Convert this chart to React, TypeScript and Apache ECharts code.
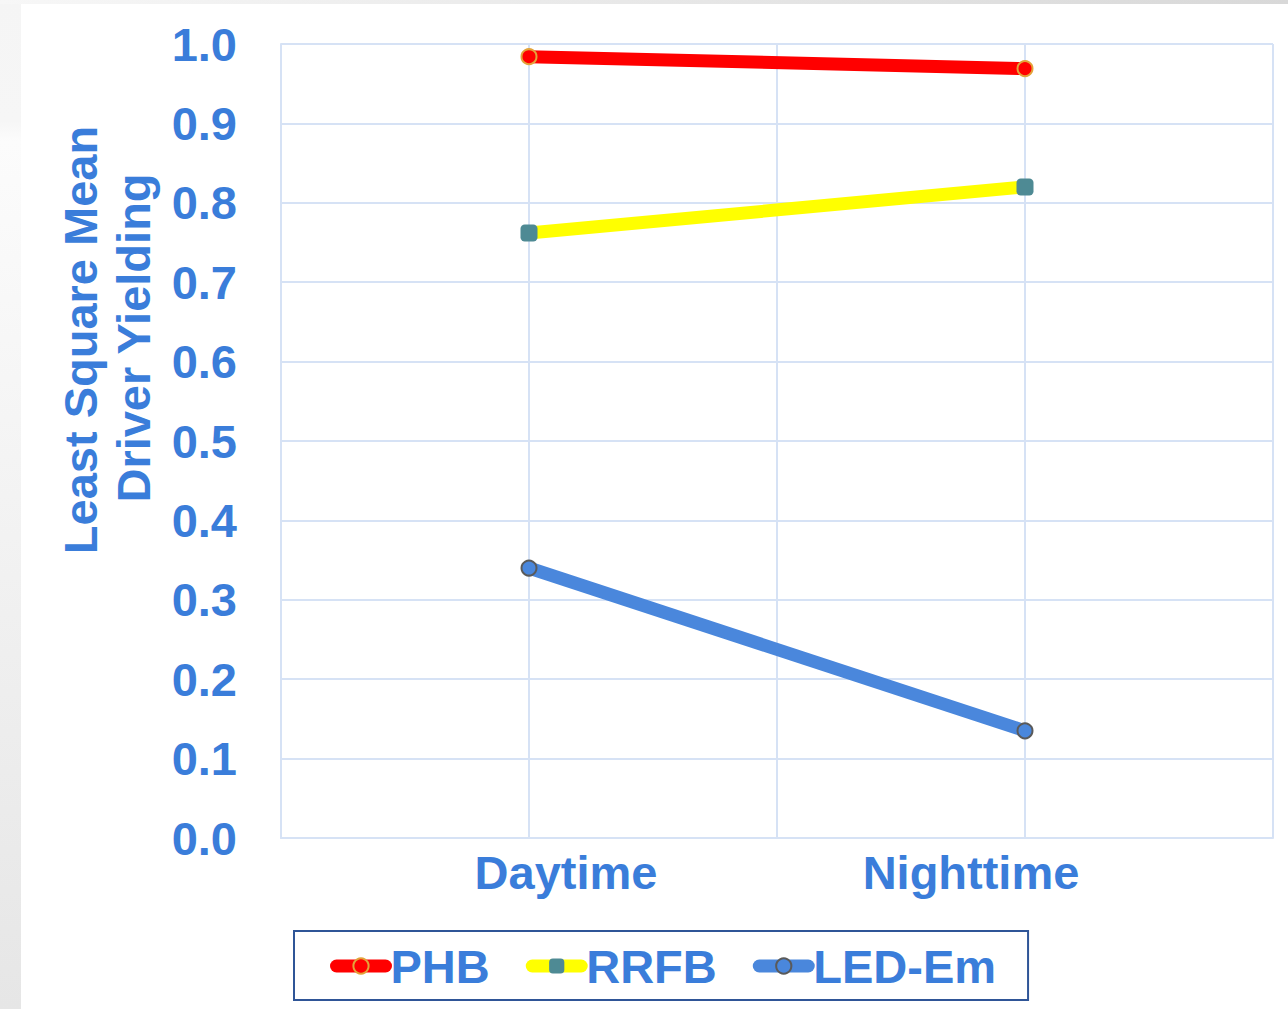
import React, { useEffect, useRef } from "react";
import * as echarts from "echarts";

// Category axis slots: the two conditions sit on the 2nd and 4th gridlines
const slots = [" ", "Daytime", "  ", "Nighttime", "   "];
const conditions = ["Daytime", "Nighttime"];

// Least square mean driver yielding by condition
const phb = [0.984, 0.969];
const rrfb = [0.762, 0.82];
const ledEm = [0.34, 0.135];

const yTicks = { min: 0, max: 1, interval: 0.1 };
const yTitle = ["Least Square Mean", "Driver Yielding"];

const FONT = "Arial, 'Liberation Sans', sans-serif";
const FS = 47;
const BLUE_TEXT = "#3A7DDA";
const GRID = "#D6E2F5";

const pairs = (vals: number[]) => conditions.map((c, i) => [c, vals[i]]);

export default function App() {
  const ref = useRef<HTMLDivElement>(null);

  useEffect(() => {
    if (!ref.current) return;
    const chart = echarts.init(ref.current, null, { renderer: "svg" });
    const labelRich = { color: BLUE_TEXT, fontFamily: FONT, fontWeight: "bold", fontSize: FS };
    chart.setOption({
      animation: false,
      backgroundColor: "#ffffff",
      grid: { left: 281, right: 15, top: 44, bottom: 171 },
      xAxis: {
        type: "category",
        data: slots,
        boundaryGap: false,
        axisLine: { show: true, lineStyle: { color: GRID, width: 2 } },
        axisTick: { show: false },
        splitLine: { show: true, lineStyle: { color: GRID, width: 2 } },
        axisLabel: {
          interval: 0,
          margin: 11,
          color: BLUE_TEXT,
          fontFamily: FONT,
          fontWeight: "bold",
          fontSize: FS,
          formatter: (v: string) =>
            v === "Daytime" ? "{d|Daytime}" : v === "Nighttime" ? "{n|Nighttime}" : "",
          rich: {
            d: { ...labelRich, padding: [0, 0, 0, 74] },
            n: { ...labelRich, padding: [0, 108, 0, 0] },
          },
        },
      },
      yAxis: {
        type: "value",
        min: yTicks.min,
        max: yTicks.max,
        interval: yTicks.interval,
        axisLine: { show: true, lineStyle: { color: GRID, width: 2 } },
        axisTick: { show: false },
        splitLine: { show: true, lineStyle: { color: GRID, width: 2 } },
        axisLabel: {
          margin: 44,
          color: BLUE_TEXT,
          fontFamily: FONT,
          fontWeight: "bold",
          fontSize: FS,
          formatter: (v: number) => v.toFixed(1),
        },
      },
      legend: {
        left: 294,
        top: 931,
        orient: "horizontal",
        padding: [10, 32, 9, 36],
        itemGap: 36,
        itemWidth: 49,
        itemHeight: 19,
        borderColor: "#2F5597",
        borderWidth: 2,
        lineStyle: { width: 13, cap: "round" },
        textStyle: {
          color: BLUE_TEXT,
          fontFamily: FONT,
          fontWeight: "bold",
          fontSize: FS,
          lineHeight: 50,
        },
        data: ["PHB", "RRFB", "LED-Em"],
      },
      graphic: [
        {
          type: "rect",
          left: 0,
          top: 0,
          shape: { width: 21, height: 1009 },
          style: {
            fill: new echarts.graphic.LinearGradient(0, 0, 0, 1, [
              { offset: 0, color: "#F5F5F5" },
              { offset: 0.12, color: "#F6F6F6" },
              { offset: 0.14, color: "#FCFCFC" },
              { offset: 1, color: "#E6E6E6" },
            ]),
          },
          silent: true,
        },
        {
          type: "rect",
          left: 0,
          top: 0,
          shape: { width: 1288, height: 4 },
          style: {
            fill: new echarts.graphic.LinearGradient(0, 0, 1, 0, [
              { offset: 0, color: "#F7F7F7" },
              { offset: 1, color: "#D8D8D8" },
            ]),
          },
          silent: true,
        },
        {
          type: "text",
          x: 80,
          y: 340,
          rotation: Math.PI / 2,
          style: {
            text: yTitle[0],
            fill: BLUE_TEXT,
            font: `bold ${FS}px ${FONT}`,
            textAlign: "center",
            textVerticalAlign: "middle",
          },
        },
        {
          type: "text",
          x: 133,
          y: 338,
          rotation: Math.PI / 2,
          style: {
            text: yTitle[1],
            fill: BLUE_TEXT,
            font: `bold ${FS}px ${FONT}`,
            textAlign: "center",
            textVerticalAlign: "middle",
          },
        },
      ],
      series: [
        {
          name: "PHB",
          type: "line",
          data: pairs(phb),
          symbol: "circle",
          symbolSize: 15,
          lineStyle: { color: "#FF0000", width: 13 },
          itemStyle: { color: "#FF0000", borderColor: "#E3A33A", borderWidth: 2 },
          z: 3,
        },
        {
          name: "RRFB",
          type: "line",
          data: pairs(rrfb),
          symbol: "roundRect",
          symbolSize: 17,
          lineStyle: { color: "#FFFF00", width: 13 },
          itemStyle: { color: "#4E8A94" },
          z: 3,
        },
        {
          name: "LED-Em",
          type: "line",
          data: pairs(ledEm),
          symbol: "circle",
          symbolSize: 15,
          lineStyle: { color: "#4A87DC", width: 13 },
          itemStyle: { color: "#4A87DC", borderColor: "#5A5A5A", borderWidth: 2 },
          z: 3,
        },
      ],
    });
    return () => chart.dispose();
  }, []);

  return (
    <div
      ref={ref}
      style={{ position: "fixed", left: 0, top: 0, width: 1288, height: 1009 }}
    />
  );
}
